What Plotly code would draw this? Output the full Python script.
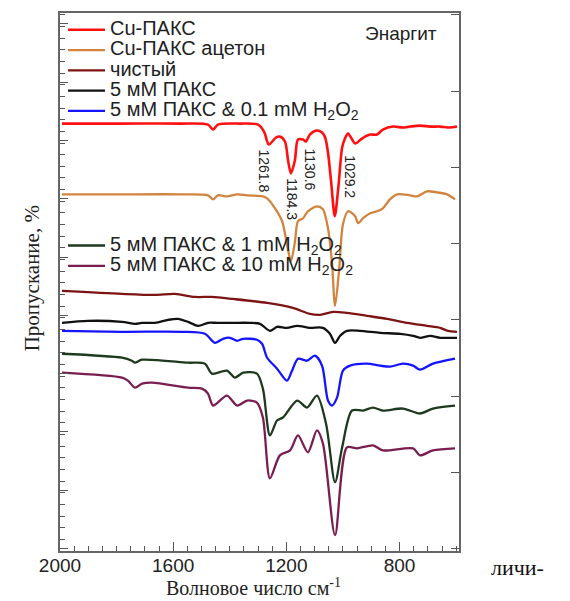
import plotly.graph_objects as go

# ---- data (wavenumber, cm-1) / transmittance (arbitrary offset units) ----
wn_cu = [1993, 1788, 1576, 1477, 1459, 1442, 1364, 1300, 1279, 1262, 1237, 1223, 1205, 1194, 1184,
         1170, 1159, 1141, 1131, 1117, 1092, 1074, 1063, 1053, 1042, 1029, 1016, 1003, 993, 982,
         957, 933, 904, 880, 859, 823, 788, 763, 728, 692, 657, 622, 597]
t_cu = [429, 429, 429, 428, 423, 428, 429, 428, 421, 408, 415, 416, 411, 392, 379,
        392, 413, 413, 411, 418, 422, 420, 415, 400, 371, 336, 366, 405, 414, 419,
        409, 414, 418, 418, 423, 426, 425, 426, 427, 426, 426, 425, 426]

wn_ac = [1993, 1788, 1576, 1477, 1459, 1442, 1410, 1374, 1339, 1283, 1268, 1240, 1215, 1198, 1184,
         1170, 1159, 1141, 1124, 1092, 1071, 1053, 1039, 1028, 1014, 1000, 982, 957, 947, 929,
         904, 880, 859, 834, 809, 763, 738, 703, 668, 632, 604]
t_ac = [358, 358, 358, 357, 353, 357, 356, 358, 357, 356, 354, 344, 331, 308, 291,
        310, 331, 334, 341, 346, 343, 324, 290, 246, 281, 328, 341, 336, 329, 334,
        339, 341, 344, 353, 358, 357, 356, 361, 360, 358, 353]

wn_pure = [1993, 1781, 1664, 1594, 1523, 1463, 1389, 1268, 1177, 1117, 1081, 1035, 986, 915,
           844, 774, 703, 657, 629, 597]
t_pure = [261, 258, 257, 258, 255, 255, 253, 249, 244, 238, 237, 240, 239, 236,
          233, 229, 226, 224, 221, 220]

wn_paks = [1993, 1901, 1781, 1735, 1710, 1664, 1618, 1583, 1548, 1512, 1477, 1445, 1389, 1329,
           1293, 1258, 1233, 1198, 1162, 1117, 1071, 1046, 1028, 1010, 986, 940, 869, 798,
           752, 728, 692, 657, 622, 597]
t_paks = [229, 231, 230, 228, 229, 229, 232, 233, 230, 226, 229, 229, 229, 229,
          228, 221, 225, 224, 226, 224, 224, 218, 209, 216, 221, 221, 219, 218,
          216, 214, 216, 214, 214, 214]

wn_h01 = [1993, 1781, 1569, 1488, 1452, 1424, 1399, 1374, 1353, 1304, 1286, 1268, 1233, 1198,
          1180, 1159, 1127, 1099, 1074, 1053, 1039, 1021, 1000, 975, 915, 869, 834, 788,
          752, 728, 682, 604]
t_h01 = [221, 220, 220, 218, 209, 213, 214, 211, 213, 212, 208, 194, 183, 171,
         181, 193, 191, 196, 186, 151, 146, 154, 181, 186, 188, 186, 185, 188,
         186, 182, 188, 193]

wn_h1 = [1993, 1781, 1746, 1735, 1710, 1548, 1488, 1463, 1410, 1382, 1353, 1304, 1283, 1258,
         1233, 1212, 1162, 1127, 1092, 1060, 1028, 1003, 968, 929, 894, 859, 788, 728,
         682, 604]
t_h1 = [198, 194, 191, 189, 192, 189, 188, 178, 181, 174, 179, 178, 163, 116,
        131, 134, 151, 144, 156, 128, 69, 104, 141, 141, 144, 141, 143, 138,
        143, 146]

wn_h10 = [1993, 1781, 1760, 1735, 1710, 1675, 1548, 1498, 1477, 1459, 1410, 1374, 1339, 1304,
          1283, 1258, 1223, 1187, 1159, 1124, 1092, 1071, 1028, 986, 950, 894, 859, 752,
          728, 682, 604]
t_h10 = [179, 174, 171, 164, 168, 169, 164, 163, 158, 146, 156, 146, 151, 149,
         134, 73, 96, 101, 116, 99, 121, 108, 16, 104, 103, 106, 101, 103,
         96, 101, 103]

names = ["Cu-ПАКС", "Cu-ПАКС ацетон", "чистый", "5 мМ ПАКС",
         "5 мМ ПАКС & 0.1 mM H<sub>2</sub>O<sub>2</sub>",
         "5 мМ ПАКС & 1 mM H<sub>2</sub>O<sub>2</sub>",
         "5 мМ ПАКС & 10 mM H<sub>2</sub>O<sub>2</sub>"]
colors = ["#ff1010", "#d2843f", "#7d1414", "#111111", "#1414ff", "#1e3a1e", "#7a1e52"]
series = [(wn_cu, t_cu), (wn_ac, t_ac), (wn_pure, t_pure), (wn_paks, t_paks),
          (wn_h01, t_h01), (wn_h1, t_h1), (wn_h10, t_h10)]
legends = ["legend"] * 5 + ["legend2"] * 2

peak_lbl = ["1261.8", "1184.3", "1130.6", "1029.2"]
peak_lbl_x = [1279, 1180, 1117, 975]
peak_lbl_y = [382, 353, 383, 376]

SANS = "Liberation Sans, Arial"
SERIF = "Liberation Serif, Times New Roman"

fig = go.Figure()
for i, ((xs, ys), nm, c, lg) in enumerate(zip(series, names, colors, legends)):
    fig.add_trace(go.Scatter(
        x=xs, y=ys, mode="lines", legend=lg,
        name='<span style="font-size:20px">' + nm + "</span>",
        yaxis="y2" if i == 6 else "y",
        line=dict(color=c, width=2.6 if i == 0 else 2.3, shape="spline", smoothing=0.8),
        hoverinfo="skip"))

annotations = []
for lx, ly, t in zip(peak_lbl_x, peak_lbl_y, peak_lbl):
    annotations.append(dict(x=lx, y=ly, xref="x", yref="y", text=t, showarrow=False,
                            xanchor="center", yanchor="middle", textangle=90,
                            font=dict(family=SANS, size=14, color="#222")))
annotations += [
    dict(x=0.855, y=0.961, xref="paper", yref="paper", text="Энаргит", showarrow=False,
         xanchor="center", yanchor="middle", font=dict(family=SANS, size=19, color="#222")),
    dict(x=-0.07, y=0.507, xref="paper", yref="paper", text="Пропускание, %", showarrow=False,
         xanchor="center", yanchor="middle", textangle=-90,
         font=dict(family=SERIF, size=21, color="#222")),
    dict(x=0.484, y=-0.0926, xref="paper", yref="paper", text="Волновое число см<sup>-1</sup>",
         showarrow=False, xanchor="center", yanchor="bottom",
         font=dict(family=SERIF, size=20, color="#222")),
    dict(x=1.146, y=-0.03, xref="paper", yref="paper", text="личи-", showarrow=False,
         xanchor="center", yanchor="middle", font=dict(family=SERIF, size=22, color="#111")),
]

legend_common = dict(bgcolor="rgba(0,0,0,0)", borderwidth=0, itemwidth=37,
                     font=dict(family=SANS, size=13.3, color="#222"),
                     xanchor="left", yanchor="top", tracegroupgap=0)

fig.update_layout(
    width=570, height=601,
    margin=dict(l=60, r=111, t=11, b=50),
    paper_bgcolor="white", plot_bgcolor="white",
    showlegend=True,
    legend=dict(x=0.0075, y=0.997, **legend_common),
    legend2=dict(x=0.0075, y=0.596, **legend_common),
    xaxis=dict(range=[2000, 590], tick0=0, dtick=400, ticks="inside", ticklen=9, tickwidth=1.3,
               tickcolor="#555", showline=True, linecolor="#666", linewidth=1.5, mirror=True,
               showgrid=False, zeroline=False, ticklabelstandoff=-4,
               tickfont=dict(family=SANS, size=19, color="#222"),
               minor=dict(dtick=50, ticks="inside", ticklen=5, tickcolor="#555", tickwidth=1.2,
                          showgrid=False)),
    yaxis=dict(range=[0, 540], tick0=2.5, dtick=58.5, ticks="inside", ticklen=8, tickwidth=1.3,
               tickcolor="#555", showticklabels=False, showline=True, linecolor="#666",
               linewidth=1.5, mirror=True, showgrid=False, zeroline=False,
               minor=dict(dtick=11.7, ticks="inside", ticklen=5, tickcolor="#555", tickwidth=1.2,
                          showgrid=False)),
    yaxis2=dict(range=[0, 540], overlaying="y", side="right", tick0=2.5, dtick=76.5,
                ticks="inside", ticklen=8, tickwidth=1.3, tickcolor="#555",
                showticklabels=False, showline=False, showgrid=False, zeroline=False),
    annotations=annotations,
)

fig.write_html("out.html")
